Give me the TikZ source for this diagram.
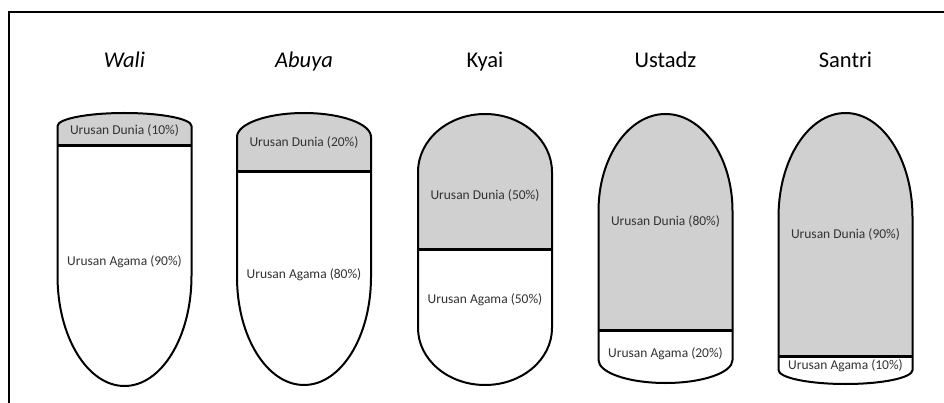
\documentclass[tikz,border=0pt]{standalone}
\usepackage{fontspec}
\setmainfont{Carlito}
\usepackage{tikz}

\definecolor{dunia}{HTML}{D0D0D0}

\tikzset{
  shell/.style={line width=2pt, line join=round},
  divider/.style={line width=3pt},
  label/.style={font=\fontsize{13.5}{15}\selectfont, text=black!80, inner sep=0pt},
  title/.style={font=\fontsize{22.5}{26}\selectfont, anchor=base, inner sep=0pt}
}

\begin{document}
\begin{tikzpicture}[x=1pt, y=-1pt]

  \useasboundingbox (0,0) rectangle (944,403);
  \draw[line width=2pt] (9,403) -- (9,12) -- (944,12);

  % centre / top / top cap / divider / bottom cap / bottom / name / title / dunia / agama
  \foreach \xc/\yt/\ht/\yd/\hb/\yb/\nm/\ttl/\du/\ag/\ydu/\yag in {
      124.5/113/13/145.5/110/386/wali/\textit{Wali}/10/90/135/267,
      304/113/24/172/108/385/abuya/\textit{Abuya}/20/80/147/280,
      485/114/58/249/57/385/kyai/Kyai/50/50/200/305,
      665.5/114/97/330/23/383/ustadz/Ustadz/80/20/226/359,
      845.5/113/104/356/14/384/santri/Santri/90/10/239/371} {

    \def\outline{(\xc-67,\yt+\ht) -- (\xc-67,\yb-\hb)
      arc[start angle=180, end angle=0, x radius=67, y radius=\hb]
      -- (\xc+67,\yt+\ht)
      arc[start angle=0, end angle=-180, x radius=67, y radius=\ht] -- cycle}

    \fill[white] \outline;
    \begin{scope}
      \clip \outline;
      \fill[dunia] (\xc-70,\yt-3) rectangle (\xc+70,\yd);
    \end{scope}
    \draw[divider] (\xc-67,\yd) -- (\xc+67,\yd);
    \draw[shell] \outline;

    \node[title] (t-\nm) at (\xc,68) {\ttl};
    \node[label] (d-\nm) at (\xc,\ydu) {Urusan Dunia (\du\%)};
    \node[label] (a-\nm) at (\xc,\yag) {Urusan Agama (\ag\%)};
  }

\end{tikzpicture}
\end{document}
